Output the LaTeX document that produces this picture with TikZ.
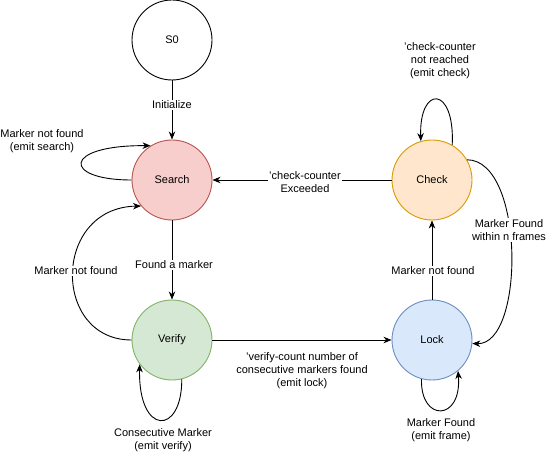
\documentclass[tikz,border=0pt]{standalone}
\usepackage{fontspec}
\setmainfont{Liberation Sans}
\usetikzlibrary{arrows.meta}
\definecolor{searchfill}{HTML}{F8CECC}
\definecolor{searchdraw}{HTML}{B85450}
\definecolor{verifyfill}{HTML}{D5E8D4}
\definecolor{verifydraw}{HTML}{82B366}
\definecolor{lockfill}{HTML}{DAE8FC}
\definecolor{lockdraw}{HTML}{6C8EBF}
\definecolor{checkfill}{HTML}{FFE6CC}
\definecolor{checkdraw}{HTML}{D79B00}
\begin{document}
\begin{tikzpicture}
            [x=1pt,y=-1pt,
             State/.style={circle,draw=black,line width=0.9pt,minimum size=80pt,inner sep=0pt,font=\fontsize{11}{13}\selectfont},
             Lbl/.style={fill=white,align=center,inner sep=1pt,font=\fontsize{11}{13}\selectfont},
             Edge/.style={line width=0.9pt,-{Stealth[length=8pt,width=6.5pt,inset=2.5pt]}}]
            \useasboundingbox (0,0) rectangle (549,454);
            \node[State] (S0) at (172,40){S0};
            \node[State,fill=searchfill,draw=searchdraw] (Search) at (172,180){Search};
            \node[State,fill=verifyfill,draw=verifydraw] (Verify) at (172,340){Verify};
            \node[State,fill=lockfill,draw=lockdraw] (Lock) at (432,340){Lock};
            \node[State,fill=checkfill,draw=checkdraw] (Check) at (432,180){Check};
            \draw[Edge](S0) to (Search);
            \draw[Edge](Search.west) .. controls (62,180) and (62,145) .. (Search.122);
            \draw[Edge](Check) to (Search);
            \draw[Edge](Search) to (Verify);
            \draw[Edge](Verify.west) .. controls (52,340) and (52,208) .. (Search.220);
            \draw[Edge](Verify.284) .. controls (182,436) and (138,436) .. (Verify.217);
            \draw[Edge](Verify) to (Lock);
            \draw[Edge](Lock) to (Check);
            \draw[Edge](Check.60) .. controls (455,85) and (419,85) .. (Check.106);
            \draw[Edge](Check.30) .. controls (525,160) and (525,345) .. (Lock.355);
            \draw[Edge](Lock.255) .. controls (420,422) and (462,422) .. (Lock.310);
            \node[Lbl] (init) at (172,105){Initialize};
            \node[Lbl] (searchloop) at (42,141){Marker not found\\(emit search)};
            \node[Lbl] (exceeded) at (305,182){'check-counter\\Exceeded};
            \node[Lbl] (found) at (174,265){Found a marker};
            \node[Lbl] (notfoundV) at (76,271){Marker not found};
            \node[Lbl] (verifyloop) at (163,440){Consecutive Marker\\(emit verify)};
            \node[Lbl,fill=none] (verifycount) at (302,371){'verify-count number of\\consecutive markers found\\(emit lock)};
            \node[Lbl] (notfoundL) at (433,271){Marker not found};
            \node[Lbl] (checkloop) at (440,61){'check-counter\\not reached\\(emit check)};
            \node[Lbl] (within) at (509,230){Marker Found\\within n frames};
            \node[Lbl] (lockloop) at (441,430){Marker Found\\(emit frame)};
        \end{tikzpicture}
\end{document}
